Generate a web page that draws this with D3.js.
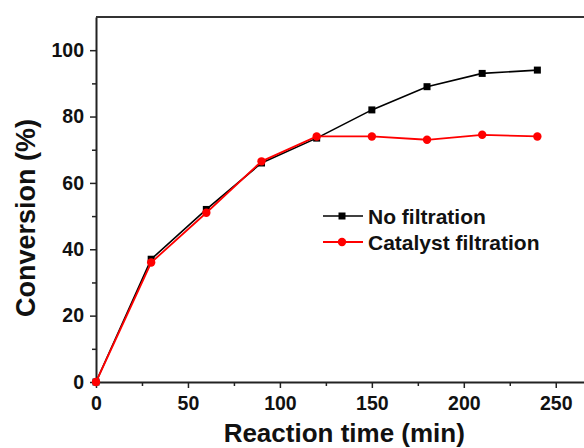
<!DOCTYPE html>
<html>
<head>
<meta charset="utf-8">
<script src="https://cdn.jsdelivr.net/npm/d3@7"></script>
<style>
  body { margin: 0; background: #fff; }
  svg { display: block; font-family: "Liberation Sans", Arial, sans-serif; }
</style>
</head>
<body>
<div id="chart"></div>
<script>
  // data
  let times = [0, 30, 60, 90, 120, 150, 180, 210, 240];
  let noFiltration = [0, 37, 52, 66, 73.5, 82, 89, 93, 94];
  let catalystFiltration = [0, 36, 51, 66.5, 74, 74, 73, 74.5, 74];
  let xTicks = [0, 50, 100, 150, 200, 250];
  let yTicks = [0, 20, 40, 60, 80, 100];
  let seriesNames = ['No filtration', 'Catalyst filtration'];

  let width = 584, height = 448;
  let margin = { top: 17, left: 96, bottom: 66 };
  let plotBottom = height - margin.bottom;

  let svg = d3.select('#chart')
    .append('svg')
    .attr('width', width)
    .attr('height', height);

  let x = d3.scaleLinear().domain([0, 270]).range([margin.left, margin.left + 270 * 1.839]);
  let y = d3.scaleLinear().domain([0, 110]).range([plotBottom, margin.top]);

  // minor ticks first
  svg.append('g')
    .attr('transform', `translate(0, ${plotBottom})`)
    .call(d3.axisBottom(x).tickValues(d3.range(25, 270, 50)).tickSize(4).tickFormat(''))
    .call(g => g.select('.domain').remove());
  svg.append('g')
    .attr('transform', `translate(${margin.left}, 0)`)
    .call(d3.axisLeft(y).tickValues(d3.range(10, 110, 20)).tickSize(4).tickFormat(''))
    .call(g => g.select('.domain').remove());

  let xAxis = svg.append('g')
    .attr('transform', `translate(0, ${plotBottom})`)
    .call(d3.axisBottom(x).tickValues(xTicks).tickSize(6).tickPadding(8).tickSizeOuter(0));
  let yAxis = svg.append('g')
    .attr('transform', `translate(${margin.left}, 0)`)
    .call(d3.axisLeft(y).tickValues(yTicks).tickSize(6).tickPadding(6).tickSizeOuter(0));

  [xAxis, yAxis].forEach(g => {
    g.selectAll('text')
      .style('font-family', '"Liberation Sans", Arial, sans-serif')
      .style('font-size', '19.5px')
      .style('font-weight', 'bold')
      .attr('fill', '#111');
  });
  svg.selectAll('.tick line').attr('stroke', '#222').attr('stroke-width', 1.5);
  svg.selectAll('.domain').attr('stroke', '#222').attr('stroke-width', 2);

  // top frame line
  svg.append('line')
    .attr('x1', margin.left).attr('x2', width)
    .attr('y1', margin.top).attr('y2', margin.top)
    .attr('stroke', '#333').attr('stroke-width', 2);

  // titles
  svg.append('text')
    .attr('x', x(135))
    .attr('y', 442)
    .attr('text-anchor', 'middle')
    .style('font-size', '26px')
    .style('font-weight', 'bold')
    .attr('fill', '#111')
    .text('Reaction time (min)');

  svg.append('text')
    .attr('transform', 'translate(35, 218) rotate(-90)')
    .attr('text-anchor', 'middle')
    .style('font-size', '27px')
    .style('font-weight', 'bold')
    .attr('fill', '#111')
    .text('Conversion (%)');

  let line = d3.line()
    .x(d => x(d[0]))
    .y(d => y(d[1]));

  let black = times.map((t, i) => [t, noFiltration[i]]);
  let red = times.map((t, i) => [t, catalystFiltration[i]]);

  svg.append('path')
    .datum(black)
    .attr('d', line)
    .attr('fill', 'none')
    .attr('stroke', '#000')
    .attr('stroke-width', 1.6);

  svg.selectAll('rect.sq')
    .data(black)
    .enter()
    .append('rect')
    .attr('class', 'sq')
    .attr('x', d => x(d[0]) - 3.5)
    .attr('y', d => y(d[1]) - 3.5)
    .attr('width', 7)
    .attr('height', 7)
    .attr('fill', '#000');

  svg.append('path')
    .datum(red)
    .attr('d', line)
    .attr('fill', 'none')
    .attr('stroke', '#f00')
    .attr('stroke-width', 1.8);

  svg.selectAll('circle.dot')
    .data(red)
    .enter()
    .append('circle')
    .attr('class', 'dot')
    .attr('cx', d => x(d[0]))
    .attr('cy', d => y(d[1]))
    .attr('r', 4.2)
    .attr('fill', '#f00');

  // legend
  let legend = svg.append('g');
  let legendY = [216, 242];
  seriesNames.forEach((name, i) => {
    let color = i === 0 ? '#000' : '#f00';
    let yy = legendY[i];
    legend.append('line')
      .attr('x1', 323).attr('x2', 363)
      .attr('y1', yy).attr('y2', yy)
      .attr('stroke', color)
      .attr('stroke-width', i === 0 ? 1.6 : 1.8);
    if (i === 0) {
      legend.append('rect')
        .attr('x', 342 - 3.5).attr('y', yy - 3.5)
        .attr('width', 7).attr('height', 7)
        .attr('fill', color);
    } else {
      legend.append('circle')
        .attr('cx', 342).attr('cy', yy).attr('r', 4.2)
        .attr('fill', color);
    }
    legend.append('text')
      .attr('x', 368)
      .attr('y', yy + 7.5)
      .style('font-size', '21px')
      .style('font-weight', 'bold')
      .attr('fill', '#111')
      .text(name);
  });
</script>
</body>
</html>
